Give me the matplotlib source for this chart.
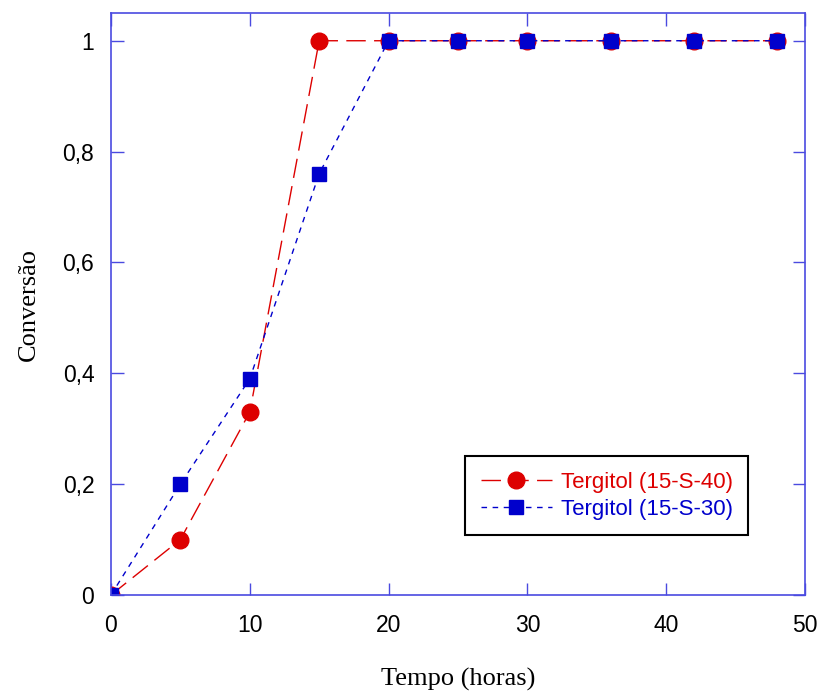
import matplotlib.pyplot as plt

tempo = [0, 5, 10, 15, 20, 25, 30, 36, 42, 48]
conv_40 = [0, 0.1, 0.33, 1, 1, 1, 1, 1, 1, 1]
conv_30 = [0, 0.2, 0.39, 0.76, 1, 1, 1, 1, 1, 1]

xticks = [0, 10, 20, 30, 40, 50]
yticks = [0, 0.2, 0.4, 0.6, 0.8, 1]
ytick_labels = ['0', '0,2', '0,4', '0,6', '0,8', '1']

frame_color = '#4a4ae0'

fig = plt.figure(figsize=(8.19, 6.93), dpi=100)
ax = fig.add_axes([0.1355, 0.1414, 0.8474, 0.8398])

ax.plot(tempo, conv_40, color='#dd0000', lw=1, dashes=(14, 6),
        marker='o', markersize=12, label='Tergitol (15-S-40)')
ax.plot(tempo, conv_30, color='#0000cc', lw=1, dashes=(4, 4),
        marker='s', markersize=9.5, label='Tergitol (15-S-30)')

ax.set_xlim(0, 50)
ax.set_ylim(0, 1.05)
ax.set_xticks(xticks)
ax.set_yticks(yticks)
ax.set_yticklabels(ytick_labels)

for sp in ax.spines.values():
    sp.set_color(frame_color)
    sp.set_linewidth(1.2)
ax.tick_params(direction='in', length=9, width=1, color=frame_color,
               top=True, right=True, labelsize=16.5)
ax.tick_params(axis='x', pad=14)
ax.tick_params(axis='y', pad=12)
for lab in ax.get_xticklabels() + ax.get_yticklabels():
    lab.set_fontfamily('Liberation Sans')

ax.set_xlabel('Tempo (horas)', fontfamily='Liberation Serif', fontsize=19, labelpad=22)
ax.set_ylabel('Conversão', fontfamily='Liberation Serif', fontsize=19, labelpad=16)

leg = ax.legend(loc='lower right', bbox_to_anchor=(0.918, 0.103),
                prop={'family': 'Liberation Sans', 'size': 16},
                fancybox=False, edgecolor='black', framealpha=1,
                handlelength=3.2, handletextpad=0.4, labelspacing=0.25,
                borderpad=0.7, borderaxespad=0)
leg.get_frame().set_linewidth(1.5)
for txt, c in zip(leg.get_texts(), ['#dd0000', '#0000cc']):
    txt.set_color(c)

fig.savefig('out.png', dpi=100)
